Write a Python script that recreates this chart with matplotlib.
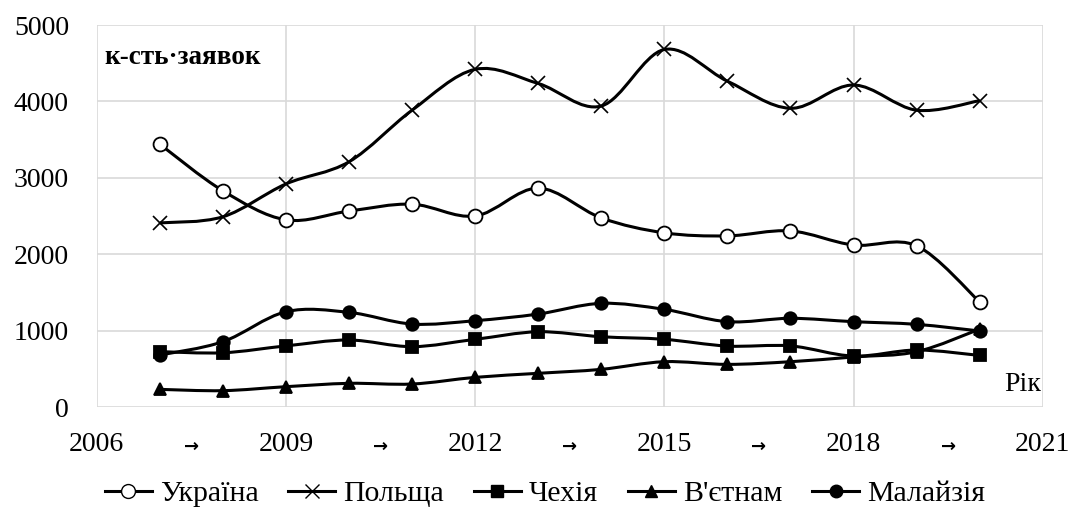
import matplotlib
matplotlib.use("Agg")
import matplotlib.pyplot as plt
import numpy as np
from matplotlib.path import Path
from matplotlib.patches import PathPatch
from matplotlib.lines import Line2D

plt.rcParams['font.family'] = ['Liberation Serif', 'DejaVu Serif']

years = list(range(2007, 2021))
ukraine = [3440, 2830, 2450, 2565, 2655, 2500, 2865, 2475, 2280, 2240, 2305, 2120, 2110, 1375]
poland = [2410, 2490, 2920, 3210, 3885, 4420, 4235, 3940, 4680, 4265, 3910, 4215, 3885, 4010]
czechia = [725, 710, 800, 877, 790, 886, 985, 920, 886, 798, 800, 667, 746, 675]
vietnam = [231, 214, 266, 310, 301, 388, 441, 493, 593, 558, 593, 655, 724, 1020]
malaysia = [680, 855, 1247, 1239, 1086, 1130, 1217, 1357, 1278, 1117, 1161, 1117, 1082, 995]

names = ["Україна", "Польща", "Чехія", "В'єтнам", "Малайзія"]
series = [ukraine, poland, czechia, vietnam, malaysia]
markers = ['o', 'x', 's', '^', 'o']
faces = ['white', 'black', 'black', 'black', 'black']
msizes = [10, 10, 9, 9, 9]

year_ticks = [2006, 2009, 2012, 2015, 2018, 2021]
arrow_ticks = [2007.5, 2010.5, 2013.5, 2016.5, 2019.5]
y_ticks = [0, 1000, 2000, 3000, 4000, 5000]


def smooth_path(x, y):
    # згладжена лінія як в Excel (Catmull-Rom -> Bezier)
    pts = np.column_stack([x, y]).astype(float)
    verts = [pts[0]]
    codes = [Path.MOVETO]
    n = len(pts)
    for i in range(n - 1):
        p0 = pts[i - 1] if i > 0 else pts[i]
        p1 = pts[i]
        p2 = pts[i + 1]
        p3 = pts[i + 2] if i + 2 < n else pts[i + 1]
        c1 = p1 + (p2 - p0) / 6
        c2 = p2 - (p3 - p1) / 6
        verts += [c1, c2, p2]
        codes += [Path.CURVE4] * 3
    return Path(verts, codes)


fig = plt.figure(figsize=(10.75, 5.11), dpi=100)
ax = fig.add_axes([0.090, 0.2035, 0.880, 0.7475])

for vals, m, fc, ms in zip(series, markers, faces, msizes):
    ax.add_patch(PathPatch(smooth_path(years, vals), facecolor='none',
                           edgecolor='black', lw=2.2, zorder=3))
    ax.plot(years, vals, linestyle='none', marker=m, markersize=ms,
            markerfacecolor=fc, markeredgecolor='black', markeredgewidth=1.3 if m != 'x' else 1.2,
            zorder=4)

ax.set_xlim(2006, 2021)
ax.set_ylim(0, 5000)
ax.set_xticks(year_ticks)
ax.set_xticklabels([str(y) for y in year_ticks], fontsize=20)
ax.set_xticks(arrow_ticks, minor=True)
ax.set_xticklabels(['→'] * len(arrow_ticks), minor=True, fontsize=13,
                   fontweight='bold', family=['DejaVu Sans'])
ax.set_yticks(y_ticks)
ax.set_yticklabels([str(v) for v in y_ticks], fontsize=20)
ax.tick_params(axis='both', which='both', length=0)
ax.tick_params(axis='x', which='major', pad=18)
ax.tick_params(axis='x', which='minor', pad=22)
ax.tick_params(axis='y', pad=20)

ax.grid(True, which='major', color='#d9d9d9', lw=1.2)
ax.set_axisbelow(True)
for s in ax.spines.values():
    s.set_visible(False)

ax.text(2006.12, 4580, "к-сть·заявок", fontsize=19.5, fontweight='bold', va='center', ha='left')
ax.text(2020.98, 290, "Рік", fontsize=20, va='center', ha='right')

handles = [Line2D([0], [0], color='black', lw=2.2, marker=m, markersize=ms,
                  markerfacecolor=fc, markeredgecolor='black')
           for m, fc, ms in zip(markers, faces, msizes)]
fig.legend(handles, names, loc='lower center', ncol=5, frameon=False,
           fontsize=21.5, bbox_to_anchor=(0.507, -0.045), handlelength=1.57,
           handletextpad=0.27, columnspacing=1.0)

fig.savefig("out.png", dpi=100)
